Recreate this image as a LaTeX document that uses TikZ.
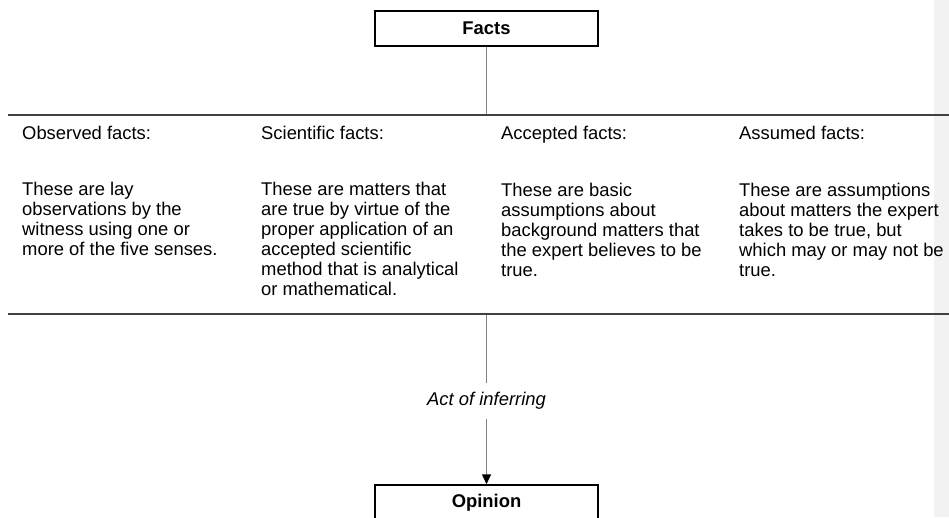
\documentclass[tikz,border=0pt]{standalone}
\usepackage{fontspec}
\setmainfont{Liberation Sans}
\usetikzlibrary{arrows.meta}

\newcommand{\diagfont}{\fontsize{18.4}{20}\selectfont}

\tikzset{
	factbox/.style={draw, line width=1.5pt, minimum width=223pt, minimum height=35pt, inner sep=0pt, font=\diagfont\bfseries},
	rule/.style={line width=2.5pt, draw=black!75},
	conn/.style={line width=1.5pt, draw=black!50},
	coltext/.style={anchor=base west, inner sep=0pt, align=left, font=\diagfont},
}

\begin{document}
\begin{tikzpicture}[x=1pt,y=-1pt]
		\useasboundingbox (0,0) rectangle (949,517);
		\fill[black!5] (934,0) rectangle (949,517);
		% the two boxes
		\node[factbox] (facts) at (486.5,28.5) {Facts};
		\node[factbox] (opinion) at (486.5,502.5) {Opinion};
		% rules above and below the columns
		\draw[rule] (8,115) -- (949,115);
		\draw[rule] (8,314) -- (949,314);
		\coordinate (topjoin) at (486.5,114);
		\coordinate (botjoin) at (486.5,315);
		% headings
		\node[coltext] (obshead) at (22,139) {Observed facts:};
		\node[coltext] (scihead) at (261,139) {Scientific facts:};
		\node[coltext] (acchead) at (501,139) {Accepted facts:};
		\node[coltext] (asshead) at (739,139) {Assumed facts:};
		% column texts (anchored on their last line)
		\node[coltext] (obstext) at (22,255) {These are lay\\observations by the\\witness using one or\\more of the five senses.};
		\node[coltext] (scitext) at (261,295) {These are matters that\\are true by virtue of the\\proper application of an\\accepted scientific\\method that is analytical\\or mathematical.};
		\node[coltext] (acctext) at (501,276) {These are basic\\assumptions about\\background matters that\\the expert believes to be\\true.};
		\node[coltext] (asstext) at (739,276) {These are assumptions\\about matters the expert\\takes to be true, but\\which may or may not be\\true.};
		% inference
		\node[font=\diagfont\itshape, minimum height=36pt, inner sep=0pt] (infer) at (486.5,401) {Act of inferring};
		\draw[conn] (facts.south) -- (topjoin);
		\draw[conn] (botjoin) -- (infer.north);
		\draw[conn,-{Triangle[length=10pt,width=9pt,black]}] (infer.south) -- (opinion.north);
\end{tikzpicture}
\end{document}
